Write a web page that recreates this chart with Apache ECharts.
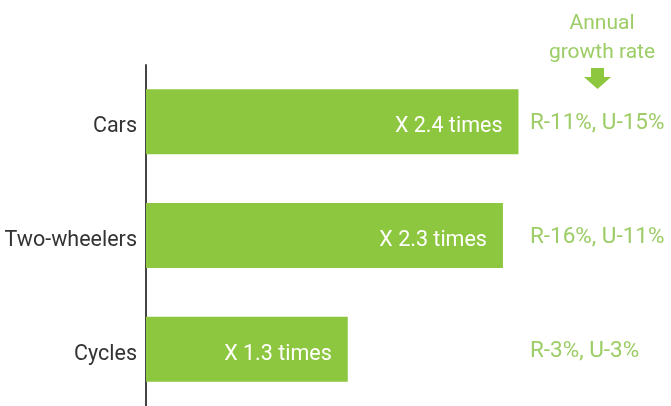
<!DOCTYPE html>
<html>
<head>
<meta charset="utf-8">
<script src="https://cdn.jsdelivr.net/npm/echarts@6/dist/echarts.min.js"></script>
<style>html,body{margin:0;padding:0;background:#fff}#c{width:671px;height:406px}</style>
</head>
<body>
<div id="c"></div>
<script>
var categories = ['Cars', 'Two-wheelers', 'Cycles'];
var growthMultiples = [2.4, 2.3, 1.3];
var annualGrowth = ['R-11%, U-15%', 'R-16%, U-11%', 'R-3%, U-3%'];
var headerText = 'Annual\ngrowth rate';

var FONT = 'Roboto, sans-serif';
var GREEN = '#8dc63f';
var LIGHT = '#9ccd66';

var chart = echarts.init(document.getElementById('c'), null, {renderer: 'canvas'});
chart.setOption({
  animation: false,
  title: {
    text: headerText,
    left: 597, top: 4, textAlign: 'center',
    textStyle: {fontFamily: FONT, fontWeight: 'normal', fontSize: 21, color: LIGHT, lineHeight: 29, align: 'center'}
  },
  graphic: [{
    type: 'polygon',
    shape: {points: [[591, 68], [604, 68], [604, 77], [611, 77], [597.5, 89], [584, 77], [591, 77]]},
    style: {fill: GREEN}
  }],
  grid: {left: 146, right: 137, top: 65, bottom: 0, containLabel: false},
  xAxis: {type: 'value', min: 0, max: 2.5, show: false},
  yAxis: [{
    type: 'category', data: categories, inverse: true,
    axisLine: {show: true, lineStyle: {color: '#444', width: 2}},
    axisTick: {show: false},
    axisLabel: {fontFamily: FONT, fontSize: 21.5, color: '#333', margin: 9, verticalAlign: 'top', lineHeight: 10}
  }, {
    type: 'category', data: annualGrowth, inverse: true, position: 'right',
    axisLine: {show: false}, axisTick: {show: false},
    axisLabel: {fontFamily: FONT, fontSize: 22.5, color: LIGHT, margin: -4, align: 'left', verticalAlign: 'top', lineHeight: 4}
  }],
  series: [{
    type: 'bar', data: growthMultiples, barWidth: 65,
    itemStyle: {color: GREEN},
    label: {
      show: true, position: 'insideRight', distance: 16, offset: [0, 5],
      formatter: function (p) { return 'X ' + p.value + ' times'; },
      fontFamily: FONT, fontSize: 21.5, color: '#fff'
    }
  }]
});
</script>
</body>
</html>
